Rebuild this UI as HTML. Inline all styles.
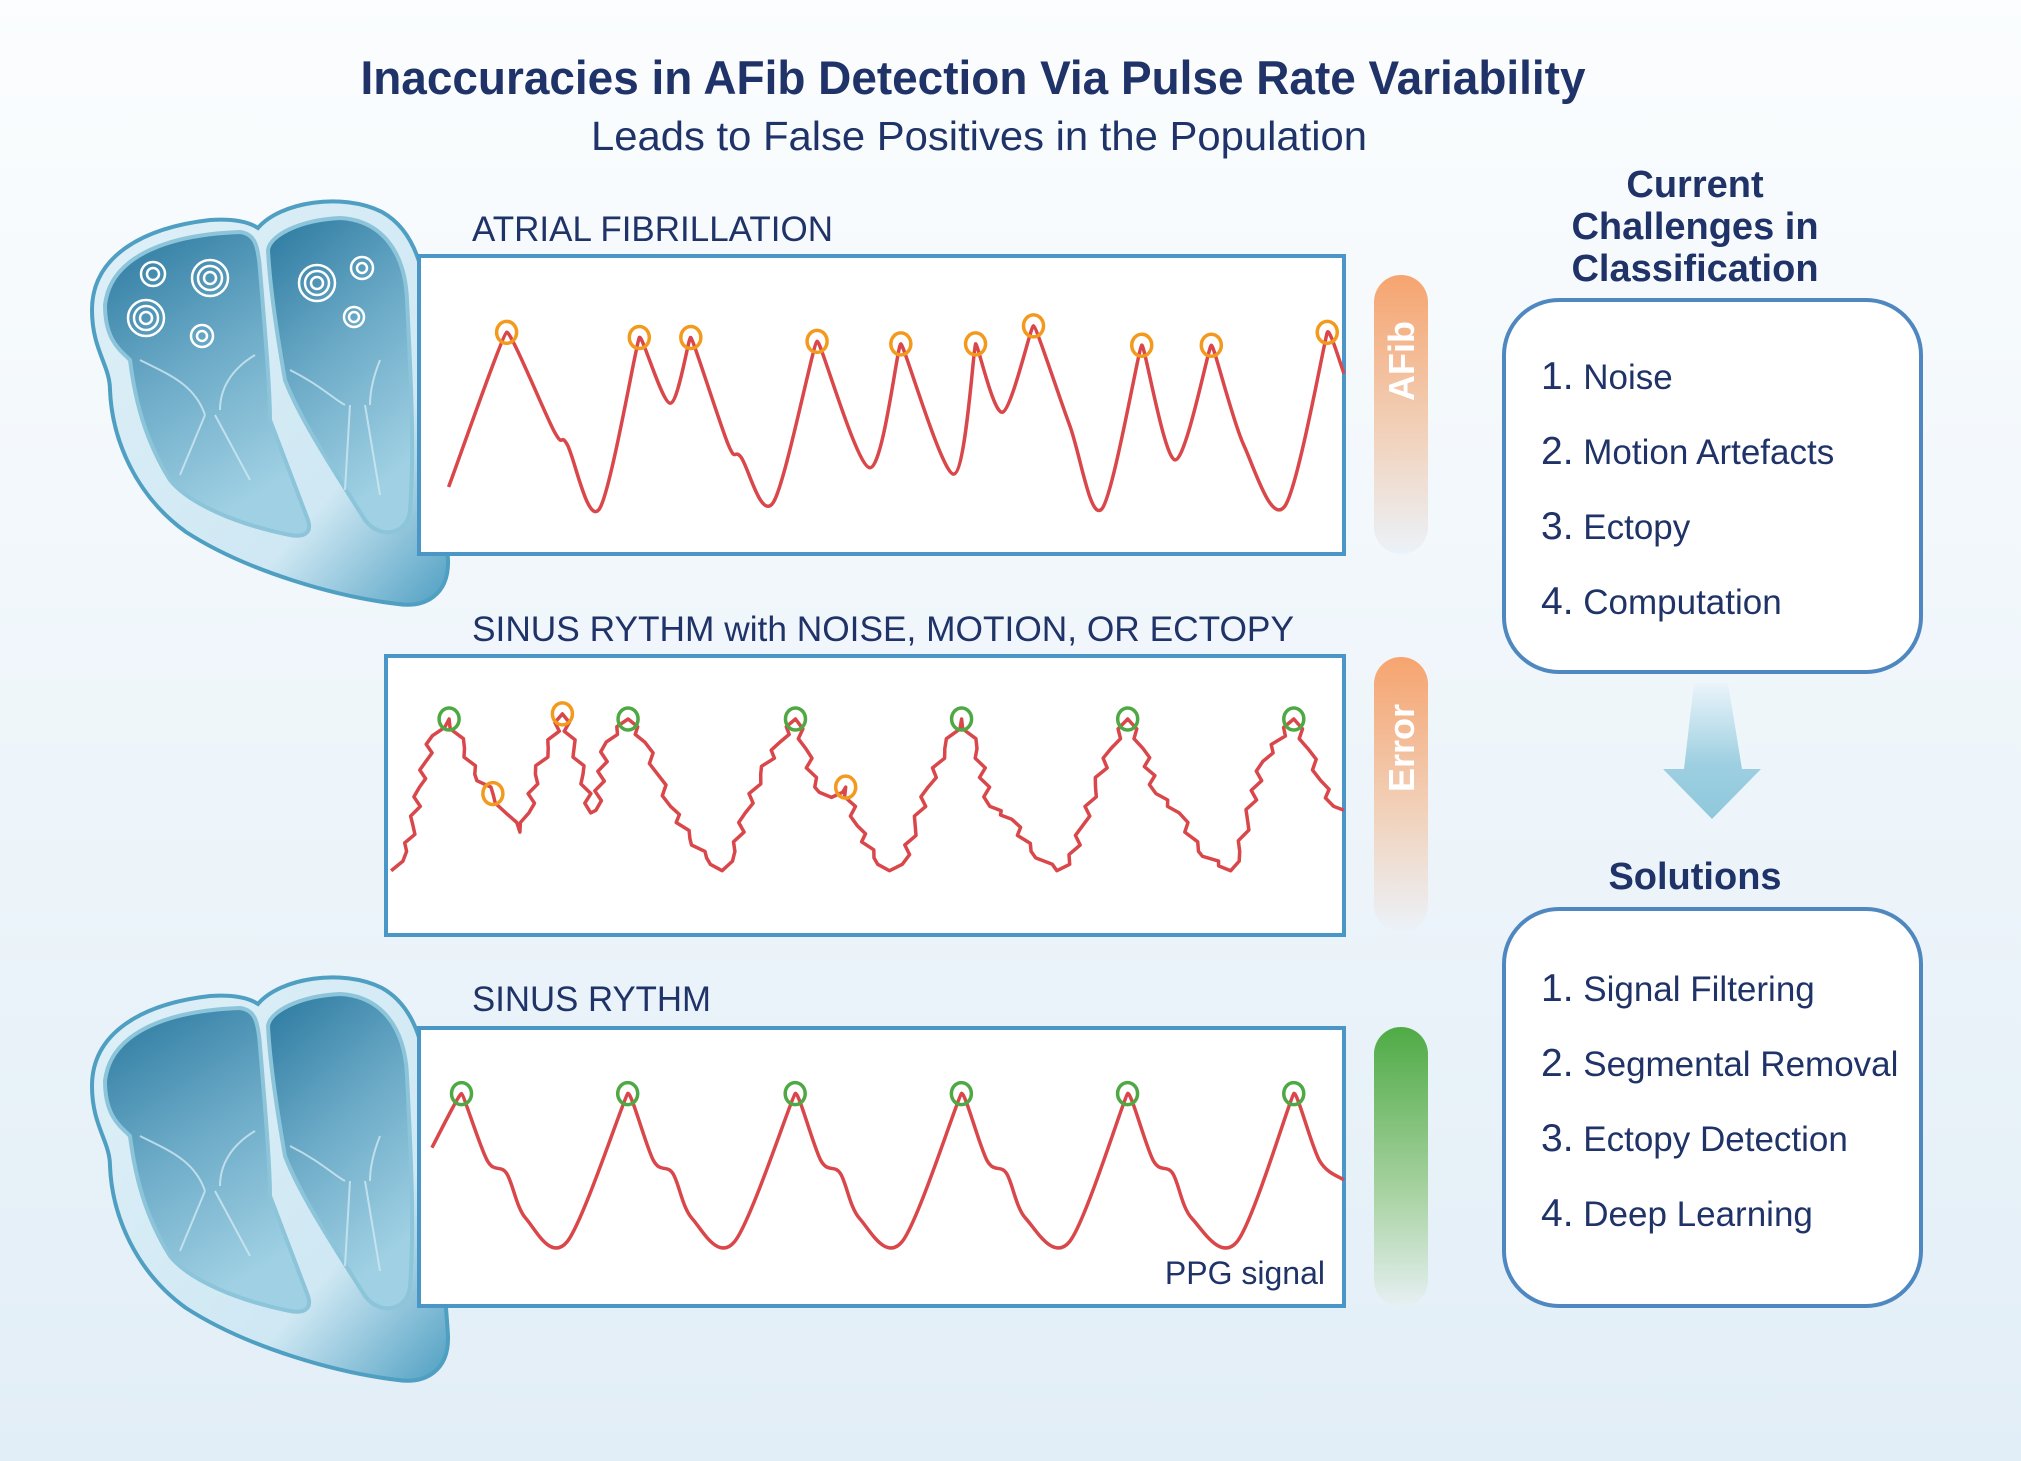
<!DOCTYPE html>
<html><head><meta charset="utf-8">
<style>
html,body{margin:0;padding:0}
body{width:2021px;height:1461px;overflow:hidden;background:linear-gradient(#fbfdfe 0%,#f1f7fb 40%,#e2eef7 100%);font-family:"Liberation Sans",sans-serif;position:relative}
svg{position:absolute;left:0;top:0}
</style></head><body>
<svg id="main" width="2021" height="1461" viewBox="0 0 2021 1461">
<defs>
<linearGradient id="chamb" x1="0" y1="0" x2="0.4" y2="1"><stop offset="0" stop-color="#2a789f"/><stop offset="0.5" stop-color="#6aa9c6"/><stop offset="1" stop-color="#9fd0e3"/></linearGradient>
<linearGradient id="outerG" x1="0" y1="0" x2="1" y2="1"><stop offset="0" stop-color="#dff0f8"/><stop offset="0.7" stop-color="#cfe8f3"/><stop offset="1" stop-color="#4f9fc2"/></linearGradient>
<linearGradient id="orangeBar" x1="0" y1="0" x2="0" y2="1"><stop offset="0" stop-color="#f6a46f"/><stop offset="0.6" stop-color="#f1d4bf"/><stop offset="1" stop-color="#ebf2f9"/></linearGradient>
<linearGradient id="greenBar" x1="0" y1="0" x2="0" y2="1"><stop offset="0" stop-color="#4fab45"/><stop offset="0.6" stop-color="#a9d3a3"/><stop offset="1" stop-color="#e6f0f3"/></linearGradient>
<linearGradient id="arrowG" x1="0" y1="0" x2="0" y2="1"><stop offset="0" stop-color="#eaf4fa"/><stop offset="0.6" stop-color="#9dcfe1"/><stop offset="1" stop-color="#8fc8dc"/></linearGradient>
<g id="heart">
<path d="M12,120 C12,68 60,38 130,30 C160,28 172,34 178,38 C200,12 262,2 302,22 C338,42 348,90 348,140 C351,210 364,300 368,370 C369,405 345,418 318,414 C258,407 168,382 106,342 C56,306 32,250 30,200 C30,175 12,160 12,120 Z" fill="url(#outerG)" stroke="#4f9fc2" stroke-width="4"/>
<path d="M25,115 C30,70 80,45 160,42 C175,44 178,55 180,80 C185,140 190,200 190,230 L228,330 C232,342 225,348 210,345 C160,335 110,315 90,290 C65,250 55,210 50,170 C40,160 25,150 25,115 Z" fill="url(#chamb)" stroke="#8cc4da" stroke-width="4"/>
<path d="M188,60 C190,45 220,30 260,28 C300,30 325,60 327,110 C330,170 335,260 330,320 C328,345 300,350 285,330 C260,290 220,230 205,190 C198,150 190,100 188,60 Z" fill="url(#chamb)" stroke="#8cc4da" stroke-width="4"/>
<path d="M60,170 C90,185 115,195 125,225 M175,165 C150,180 140,200 140,220 M125,225 L100,285 M135,225 L170,290 M210,180 C240,195 255,210 265,215 M300,170 C290,195 290,210 290,215 M270,215 L265,300 M285,215 L300,305" stroke="#cfe9f3" stroke-width="2" fill="none" opacity="0.8"/>
</g>
</defs>

<text x="973" y="94" text-anchor="middle" font-size="47" font-weight="bold" fill="#1f3368" textLength="1225" lengthAdjust="spacingAndGlyphs">Inaccuracies in AFib Detection Via Pulse Rate Variability</text>
<text x="979" y="150" text-anchor="middle" font-size="41" fill="#1f3368" textLength="776" lengthAdjust="spacingAndGlyphs">Leads to False Positives in the Population</text>

<g><use href="#heart" x="80" y="190"/>
<g stroke="#fff" stroke-width="2.5" fill="none">
<circle cx="153" cy="274" r="6"/><circle cx="153" cy="274" r="12"/>
<circle cx="210" cy="278" r="6"/><circle cx="210" cy="278" r="12"/><circle cx="210" cy="278" r="18"/>
<circle cx="146" cy="318" r="6"/><circle cx="146" cy="318" r="12"/><circle cx="146" cy="318" r="18"/>
<circle cx="202" cy="336" r="5"/><circle cx="202" cy="336" r="11"/>
<circle cx="317" cy="283" r="6"/><circle cx="317" cy="283" r="12"/><circle cx="317" cy="283" r="18"/>
<circle cx="362" cy="268" r="5"/><circle cx="362" cy="268" r="11"/>
<circle cx="354" cy="317" r="5"/><circle cx="354" cy="317" r="10"/>
</g></g>
<g><use href="#heart" x="80" y="966"/></g>

<text x="472" y="241" font-size="35" fill="#1f3368" textLength="361" lengthAdjust="spacingAndGlyphs">ATRIAL FIBRILLATION</text>
<text x="472" y="641" font-size="35" fill="#1f3368" textLength="822" lengthAdjust="spacingAndGlyphs">SINUS RYTHM with NOISE, MOTION, OR ECTOPY</text>
<text x="472" y="1011" font-size="35" fill="#1f3368" textLength="239" lengthAdjust="spacingAndGlyphs">SINUS RYTHM</text>

<rect x="419" y="256" width="925" height="298" fill="#fff" stroke="#4a97c7" stroke-width="4"/>
<rect x="386" y="656" width="958" height="279" fill="#fff" stroke="#4a97c7" stroke-width="4"/>
<rect x="419" y="1028" width="925" height="278" fill="#fff" stroke="#4a97c7" stroke-width="4"/>
<text x="1325" y="1284" text-anchor="end" font-size="32" fill="#1f3368">PPG signal</text>

<path d="M1374,302 a27,27 0 0 1 54,0 V527 a27,27 0 0 1 -54,0 Z" fill="url(#orangeBar)"/>
<text transform="translate(1414,361) rotate(-90)" text-anchor="middle" font-size="36" font-weight="bold" fill="#fff">AFib</text>
<path d="M1374,684 a27,27 0 0 1 54,0 V905 a27,27 0 0 1 -54,0 Z" fill="url(#orangeBar)"/>
<text transform="translate(1414,748) rotate(-90)" text-anchor="middle" font-size="36" font-weight="bold" fill="#fff">Error</text>
<path d="M1374,1054 a27,27 0 0 1 54,0 V1280 a27,27 0 0 1 -54,0 Z" fill="url(#greenBar)"/>

<g font-size="38" font-weight="bold" fill="#1f3368" text-anchor="middle">
<text x="1695" y="197">Current</text><text x="1695" y="239">Challenges in</text><text x="1695" y="281">Classification</text></g>
<rect x="1504" y="300" width="417" height="372" rx="55" fill="#fff" stroke="#4f88c0" stroke-width="4"/>
<g font-size="35" fill="#1f3368">
<text x="1541" y="389"><tspan font-size="39">1.</tspan> Noise</text>
<text x="1541" y="464"><tspan font-size="39">2.</tspan> Motion Artefacts</text>
<text x="1541" y="539"><tspan font-size="39">3.</tspan> Ectopy</text>
<text x="1541" y="614"><tspan font-size="39">4.</tspan> Computation</text></g>
<path d="M1694,683 H1728 L1742,769 H1761 L1712,819 L1663,769 H1684 Z" fill="url(#arrowG)"/>
<text x="1695" y="889" text-anchor="middle" font-size="38" font-weight="bold" fill="#1f3368">Solutions</text>
<rect x="1504" y="909" width="417" height="397" rx="55" fill="#fff" stroke="#4f88c0" stroke-width="4"/>
<g font-size="35" fill="#1f3368">
<text x="1541" y="1001"><tspan font-size="39">1.</tspan> Signal Filtering</text>
<text x="1541" y="1076"><tspan font-size="39">2.</tspan> Segmental Removal</text>
<text x="1541" y="1151"><tspan font-size="39">3.</tspan> Ectopy Detection</text>
<text x="1541" y="1226"><tspan font-size="39">4.</tspan> Deep Learning</text></g>
<g id="signals"></g>
</svg>
<script>
// AFib PPG trace (time units, amplitude units)
const afTime=[23,68,105,115,140,171,195,211,240,250,275,309,350,374,415,432,453,477,505,530,561,587,615,640,672,705,718];
const afValue=[52,172,95,85,35,168,117,168,85,75,40,165,67,163,62,163,110,177,100,35,162,73,162,85,37,172,140];
const afPeaks=[1,5,7,11,13,15,17,20,22,25];
// Noisy sinus trace
const nzTime=[4,16,21,26,31,36,49,61,69,83,93,104,111,116,126,137,146,153,159,163,171,188,201,211,221,236,249,261,271,279,291,306,318,326,333,346,357,366,379,391,401,411,421,434,447,459,469,486,501,521,531,541,551,563,576,588,598,616,631,656,663,669,681,705,716,726,736,744];
const nzValue=[50,65,85,115,135,155,168,145,125,110,95,80,95,125,145,172,145,125,95,97,150,168,150,125,100,75,60,50,65,95,125,150,168,145,115,107,115,85,60,50,55,85,115,145,168,145,100,90,65,50,55,85,115,145,168,145,110,95,65,50,65,90,135,168,145,120,100,97];
const nzGood=[6,21,32,44,54,63];
const nzBad=[9,15,36];
// Clean sinus trace
const srTime=[10,33,53,68,83,115,162,182,197,212,245,292,312,327,342,375,421,441,456,471,505,550,570,585,600,635,679,699,718];
const srValue=[123,165,113,103,68,50,165,113,103,68,50,165,113,103,68,50,165,113,103,68,50,165,113,103,68,50,165,113,98];
const srPeaks=[1,6,11,16,21,26];

const NS='http://www.w3.org/2000/svg';
const G=document.getElementById('signals');
function scale(d0,d1,r0,r1){return v=>r0+(v-d0)/(d1-d0)*(r1-r0);}
function smoothPath(pts){
  let d='M'+pts[0][0].toFixed(1)+','+pts[0][1].toFixed(1);
  for(let i=0;i<pts.length-1;i++){
    const p0=pts[Math.max(0,i-1)],p1=pts[i],p2=pts[i+1],p3=pts[Math.min(pts.length-1,i+2)];
    const t1=(p1[1]<p0[1]&&p1[1]<p2[1])?0.04:0.16;
    const t2=(p2[1]<p1[1]&&p2[1]<p3[1])?0.04:0.16;
    const c1=[p1[0]+(p2[0]-p0[0])*t1,p1[1]+(p2[1]-p0[1])*t1];
    const c2=[p2[0]-(p3[0]-p1[0])*t2,p2[1]-(p3[1]-p1[1])*t2];
    d+=' C'+c1[0].toFixed(1)+','+c1[1].toFixed(1)+' '+c2[0].toFixed(1)+','+c2[1].toFixed(1)+' '+p2[0].toFixed(1)+','+p2[1].toFixed(1);
  }
  return d;
}
function jaggedPath(pts){
  let d='M'+pts[0][0]+','+pts[0][1];let k=0;
  for(let i=0;i<pts.length-1;i++){
    const a=pts[i],b=pts[i+1];
    const n=Math.max(1,Math.round(Math.hypot(b[0]-a[0],b[1]-a[1])/10));
    for(let j=1;j<=n;j++){
      const f=j/n;let x=a[0]+(b[0]-a[0])*f,y=a[1]+(b[1]-a[1])*f;
      if(j<n){k++;x+=(k%2?4:-4);}
      d+=' L'+x.toFixed(1)+','+y.toFixed(1);
    }
  }
  return d;
}
function drawTrace(name,times,values,xs,ys,jag){
  const pts=times.map((t,i)=>[xs(t),ys(values[i])]);
  const p=document.createElementNS(NS,'path');
  
  
  p.setAttribute('d',jag?jaggedPath(pts):smoothPath(pts));
  p.setAttribute('fill','none');p.setAttribute('stroke','#d9474a');p.setAttribute('stroke-width','3.5');p.setAttribute('stroke-linejoin','round');
  G.appendChild(p);
  return pts;
}
function drawMarkers(name,pts,idx,color){
  idx.forEach(i=>{
    const c=document.createElementNS(NS,'ellipse');
    
    
    c.setAttribute('cx',pts[i][0]);c.setAttribute('cy',pts[i][1]);c.setAttribute('rx',10);c.setAttribute('ry',11);
    c.setAttribute('fill','none');c.setAttribute('stroke',color);c.setAttribute('stroke-width','3.5');
    G.appendChild(c);
  });
}
const afX=scale(0,718,419,1344),afY=scale(0,232,554,255);
const afPts=drawTrace('afib-trace',afTime,afValue,afX,afY,false);
drawMarkers('afib-peak-marker',afPts,afPeaks,'#f39a1e');
const nzX=scale(0,744,386,1344),nzY=scale(0,217,935,656);
const nzPts=drawTrace('noisy-trace',nzTime,nzValue,nzX,nzY,true);
drawMarkers('true-peak-marker',nzPts,nzGood,'#4ea843');
drawMarkers('false-peak-marker',nzPts,nzBad,'#f39a1e');
const srX=scale(0,718,419,1344),srY=scale(0,216,1306,1028);
const srPts=drawTrace('sinus-trace',srTime,srValue,srX,srY,false);
drawMarkers('sinus-peak-marker',srPts,srPeaks,'#4ea843');
</script>
</body></html>
